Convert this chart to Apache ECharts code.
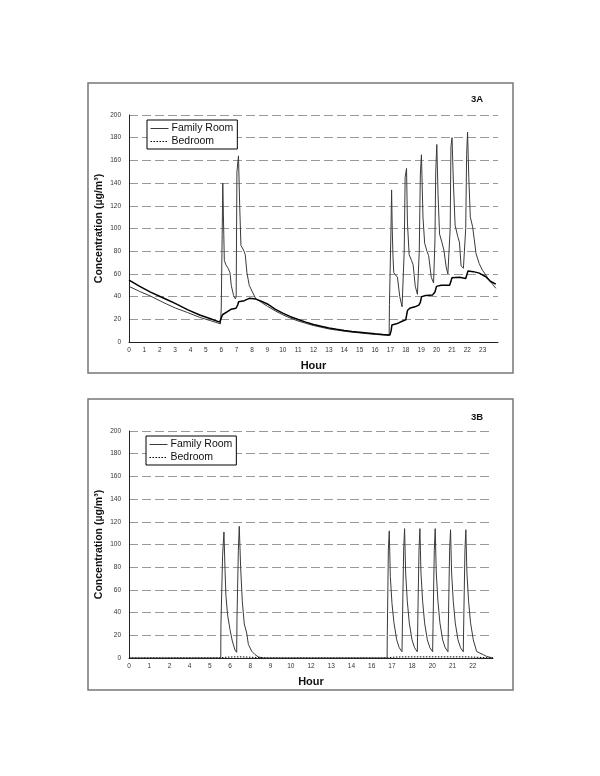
<!DOCTYPE html>
<html>
<head>
<meta charset="utf-8">
<script src="https://cdn.jsdelivr.net/npm/echarts@6/dist/echarts.min.js"></script>
<style>html,body{margin:0;padding:0;background:#fff}#c{width:600px;height:776px}</style>
</head>
<body>
<div id="c"></div>
<script>
// ---------- data (hour, concentration µg/m³) ----------
const labelsA = ['0','1','2','3','4','5','6','7','8','9','10','11','12','13','14','15','16','17','18','19','20','21','22','23'];
const labelsB = ['0','1','2','4','5','6','8','9','10','12','13','14','16','17','18','20','21','22'];
const yTicks = [0,20,40,60,80,100,120,140,160,180,200];

const familyA = [
  [0,49],[0.7,44.5],[1.4,40.5],[2.2,35],[3,30],[3.8,26],[4.6,21.7],[5.3,18.8],[5.95,16],
  [6.0,30],[6.06,95],[6.1,140],[6.14,112],[6.2,72],[6.3,68],[6.45,65],[6.57,61],[6.65,50],[6.8,41],[6.92,38],
  [6.97,40],[7.02,150],[7.12,164],[7.2,120],[7.28,85],[7.45,81],[7.56,77],[7.67,61],[7.82,50],[8.03,44],[8.25,38],
  [8.6,35],[9,31.5],[9.5,27.5],[10,24],[10.5,21],[11,18.5],[11.5,16.5],[12,14.5],[12.5,13],[13,11.5],[13.5,10.5],
  [14,9.5],[14.5,8.7],[15,8],[15.5,7.3],[16,6.7],[16.5,6.2],[16.92,5.8],
  [16.94,33],[17.04,100],[17.08,134],[17.12,100],[17.17,75],[17.22,61],[17.46,57],[17.61,40],[17.76,31],[17.86,30],
  [17.9,80],[17.96,145],[18.05,153],[18.11,105],[18.22,77],[18.37,72],[18.48,68],[18.62,49],[18.76,42],[18.84,41.5],
  [18.88,80],[18.95,148],[19.02,165],[19.12,110],[19.23,87],[19.38,80],[19.49,76],[19.66,57],[19.81,52],[19.86,51],
  [19.9,90],[19.95,150],[20.02,174],[20.1,130],[20.2,95],[20.35,88],[20.48,81],[20.63,66],[20.74,60],[20.85,58.5],
  [20.89,100],[20.94,172],[21.01,180],[21.1,140],[21.21,103],[21.38,93],[21.49,88],[21.6,67],[21.75,65],[21.86,64],
  [21.9,100],[21.96,165],[22.02,185],[22.1,145],[22.2,110],[22.35,101.5],[22.46,90],[22.57,78],[22.78,69],
  [23,63],[23.21,59],[23.43,54.5],[23.64,51],[23.86,47.3]
];
const bedroomA = [
  [0,54.6],[0.7,49],[1.4,44],[2.2,39],[3,34],[3.8,28.5],[4.6,23.8],[5.3,20.5],[5.9,17.5],[6.02,16.5],
  [6.08,24],[6.12,25.3],[6.4,26.7],[6.63,28.8],[6.96,29.7],[7.08,33],[7.13,35.5],[7.5,36.4],[7.82,38.5],[8.25,37.8],
  [8.6,36],[9,33.5],[9.5,29],[10,25.5],[10.5,22.3],[11,19.8],[11.5,17.5],[12,15.5],[12.5,13.8],[13,12.3],[13.5,11.2],
  [14,10.2],[14.5,9.3],[15,8.6],[15.5,7.9],[16,7.2],[16.5,6.6],[16.97,6.2],
  [17.05,10],[17.1,15],[17.4,16],[17.8,18.5],[18.0,19.5],[18.06,24],[18.12,28],[18.3,30],[18.6,31],[18.85,32.5],
  [18.95,35],[19.03,40],[19.3,41],[19.75,41.5],[19.9,44],[20.0,49],[20.3,50],[20.85,50],[20.93,53],[21.0,56.5],
  [21.5,57],[21.9,56],[21.97,59],[22.05,62.5],[22.4,62],[22.78,60.7],[23.21,57.5],[23.5,53.5],[23.86,51]
];
const familyB = [
  [0,0],[6.05,0],[6.06,28],[6.17,90],[6.26,111],[6.33,78],[6.39,55],[6.5,38],[6.66,25],[6.81,15],[6.99,7],[7.1,5],
  [7.12,35],[7.21,95],[7.27,116],[7.36,80],[7.47,50],[7.6,30],[7.76,22],[7.87,12],[8.09,6],[8.31,3],[8.52,1],[8.85,0],
  [17.02,0],[17.03,20],[17.1,95],[17.16,112],[17.23,72],[17.34,48],[17.47,31],[17.65,16],[17.82,9],[18.0,5.5],
  [18.04,40],[18.11,95],[18.17,114],[18.24,75],[18.35,50],[18.48,31],[18.66,16],[18.83,9],[19.01,5.5],
  [19.05,40],[19.12,95],[19.18,114],[19.25,75],[19.36,50],[19.49,31],[19.67,16],[19.84,9],[20.02,5.5],
  [20.06,40],[20.13,95],[20.19,114],[20.26,75],[20.37,50],[20.5,31],[20.68,16],[20.85,9],[21.03,5.5],
  [21.07,40],[21.14,95],[21.2,113],[21.27,75],[21.38,50],[21.51,31],[21.69,16],[21.86,9],[22.04,5.5],
  [22.08,40],[22.15,95],[22.21,113],[22.28,75],[22.39,50],[22.52,31],[22.7,16],[22.92,5.8],
  [23.14,4.3],[23.36,2.9],[23.58,1.4],[23.91,0.3],[24,0]
];
const bedroomB = [
  [0,0],[6.05,0],[6.3,0.6],[6.8,0.9],[7.3,1],[7.8,0.8],[8.3,0.5],[8.8,0.2],[9.2,0],
  [17.0,0],[17.3,0.6],[17.8,0.9],[18.5,1],[19.5,1],[20.5,1],[21.5,1],[22.3,1],[22.9,0.7],[23.5,0.3],[24,0]
];

// ---------- chart ----------
const FONT = '"Liberation Sans", Arial, sans-serif';
const famColor = '#3a3a3a';
const bedColor = '#000';

function xAxisCfg(grid, interval, fmt) {
  return {
    type: 'value', gridIndex: grid, min: 0, max: 24, interval: interval,
    name: 'Hour', nameLocation: 'middle', nameGap: 18, nameMoveOverlap: false,
    nameTextStyle: { fontFamily: FONT, fontSize: 11, fontWeight: 'bold', color: '#111' },
    axisLine: { show: true, lineStyle: { color: '#222', width: 1 } },
    axisTick: { show: false },
    splitLine: { show: false },
    axisLabel: { fontFamily: FONT, fontSize: 6.5, color: '#333', margin: 5, formatter: fmt, showMaxLabel: true }
  };
}
function yAxisCfg(grid) {
  return {
    type: 'value', gridIndex: grid, min: yTicks[0], max: yTicks[yTicks.length - 1], interval: yTicks[1] - yTicks[0],
    name: 'Concentration (µg/m³)', nameLocation: 'middle', nameGap: 24, nameRotate: 90, nameMoveOverlap: false,
    nameTextStyle: { fontFamily: FONT, fontSize: 10.5, fontWeight: 'bold', color: '#111' },
    axisLine: { show: true, lineStyle: { color: '#222', width: 1 } },
    axisTick: { show: false },
    axisLabel: { fontFamily: FONT, fontSize: 6.5, color: '#333', margin: 8 },
    splitLine: { show: true, lineStyle: { color: '#999', width: 1, type: [9, 4] } }
  };
}
function legendCfg(left, top) {
  return {
    orient: 'vertical', left: left, top: top,
    backgroundColor: '#fff', borderColor: '#000', borderWidth: 1,
    padding: [3, 4, 2, 3], itemGap: 2, itemWidth: 18, itemHeight: 12,
    textStyle: { fontFamily: FONT, fontSize: 10.5, color: '#111', padding: [0, 0, 0, -2] },
    data: [
      { name: 'Family Room', itemStyle: { color: 'rgba(0,0,0,0)', borderWidth: 0, opacity: 0 },
        lineStyle: { color: famColor, width: 1, type: 'solid', opacity: 1 } },
      { name: 'Bedroom', itemStyle: { color: 'rgba(0,0,0,0)', borderWidth: 0, opacity: 0 },
        lineStyle: { color: bedColor, width: 1, type: [1.5, 1.5], opacity: 1 } }
    ]
  };
}
function lineSeries(name, data, xi, color, width, type, z) {
  return {
    name: name, type: 'line', xAxisIndex: xi, yAxisIndex: xi, data: data,
    symbol: 'none', showSymbol: false, smooth: false, animation: false, z: z,
    lineStyle: { color: color, width: width, type: type }, itemStyle: { color: color }
  };
}

const chart = echarts.init(document.getElementById('c'), null, { renderer: 'canvas' });
chart.setOption({
  backgroundColor: '#fff',
  animation: false,
  title: [
    { text: '3A', left: 471, top: 94, padding: 0, textStyle: { fontFamily: FONT, fontSize: 9.5, fontWeight: 'bold', color: '#111' } },
    { text: '3B', left: 471, top: 412, padding: 0, textStyle: { fontFamily: FONT, fontSize: 9.5, fontWeight: 'bold', color: '#111' } }
  ],
  graphic: [
    { type: 'rect', shape: { x: 88, y: 83, width: 425, height: 290 }, style: { fill: 'none', stroke: '#777', lineWidth: 1.5 }, z: -10 },
    { type: 'rect', shape: { x: 88, y: 399, width: 425, height: 291 }, style: { fill: 'none', stroke: '#777', lineWidth: 1.5 }, z: -10 }
  ],
  grid: [
    { left: 129, top: 115, width: 369, height: 227 },
    { left: 129, top: 431, width: 364, height: 227 }
  ],
  xAxis: [
    xAxisCfg(0, 1, v => { const s = labelsA[Math.round(v)]; return s === undefined ? '' : s; }),
    xAxisCfg(1, 4 / 3, v => { const s = labelsB[Math.round(v * 3 / 4)]; return s === undefined ? '' : s; })
  ],
  yAxis: [yAxisCfg(0), yAxisCfg(1)],
  legend: [legendCfg(147, 120), legendCfg(146, 436)],
  series: [
    lineSeries('Family Room', familyA, 0, famColor, 1, 'solid', 3),
    lineSeries('Bedroom', bedroomA, 0, bedColor, 1.5, 'solid', 4),
    lineSeries('Family Room', familyB, 1, famColor, 1, 'solid', 3),
    lineSeries('Bedroom', bedroomB, 1, bedColor, 1, [1.5, 1.5], 4)
  ]
});
</script>
</body>
</html>
